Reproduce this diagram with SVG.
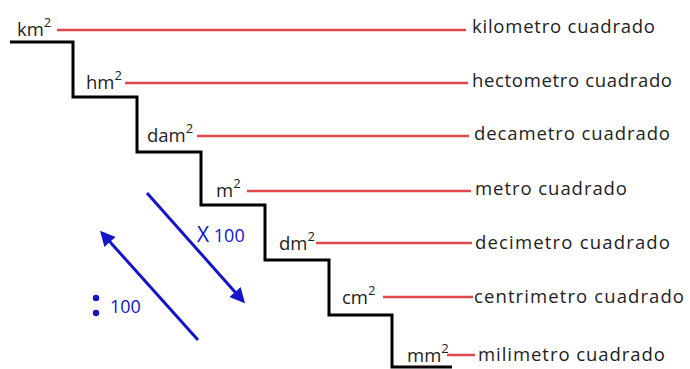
<svg xmlns="http://www.w3.org/2000/svg" width="690" height="369" viewBox="0 0 690 369">
<defs>
<style>
.t{font-family:"Open Sans","Liberation Sans",sans-serif;font-size:18.5px;fill:#222;}
.s{font-size:13px;}
.r{stroke:#e0484e;stroke-width:2.5;fill:none;}
.b{stroke:#1414c8;stroke-width:3;fill:none;}
.bt{font-family:"Open Sans","Liberation Sans",sans-serif;font-size:18px;fill:#1414c8;}
</style>
<marker id="ah" viewBox="0 0 10 10" refX="8" refY="5" markerWidth="5" markerHeight="5" orient="auto" markerUnits="strokeWidth">
<path d="M0,0 L10,5 L0,10 Z" fill="#1414c8"/>
</marker>
</defs>
<rect width="690" height="369" fill="#fff"/>
<g id="stairs">
<path d="M10,42 H73 V97 H137 V152 H201 V205 H265 V260 H329 V315 H392 V367 H452" fill="none" stroke="#000" stroke-width="3"/>
</g>
<g id="connectors">
<line class="r" x1="57" y1="30" x2="466" y2="30"/>
<line class="r" x1="125" y1="83" x2="468" y2="83"/>
<line class="r" x1="197" y1="136" x2="469" y2="136"/>
<line class="r" x1="247" y1="191" x2="471" y2="191"/>
<line class="r" x1="316" y1="243" x2="472" y2="243"/>
<line class="r" x1="383" y1="297" x2="473" y2="297"/>
<line class="r" x1="447" y1="355" x2="475" y2="355"/>
<line class="b" x1="147" y1="193" x2="243" y2="301" marker-end="url(#ah)"/>
<line class="b" x1="198" y1="340" x2="102" y2="233" marker-end="url(#ah)"/>
</g>
<g id="km2"><text class="t" x="17" y="36">km<tspan class="s" dy="-9">2</tspan></text><text class="t" x="472" y="33" textLength="183">kilometro cuadrado</text></g>
<g id="hm2"><text class="t" x="86" y="89">hm<tspan class="s" dy="-9">2</tspan></text><text class="t" x="472" y="87" textLength="200">hectometro cuadrado</text></g>
<g id="dam2"><text class="t" x="147" y="142">dam<tspan class="s" dy="-9">2</tspan></text><text class="t" x="474" y="140" textLength="196">decametro cuadrado</text></g>
<g id="m2"><text class="t" x="216" y="197">m<tspan class="s" dy="-9">2</tspan></text><text class="t" x="475" y="195" textLength="152">metro cuadrado</text></g>
<g id="dm2"><text class="t" x="279" y="250">dm<tspan class="s" dy="-9">2</tspan></text><text class="t" x="475" y="249" textLength="195">decimetro cuadrado</text></g>
<g id="cm2"><text class="t" x="342" y="304">cm<tspan class="s" dy="-9">2</tspan></text><text class="t" x="474" y="303" textLength="210">centrimetro cuadrado</text></g>
<g id="mm2"><text class="t" x="407" y="362">mm<tspan class="s" dy="-9">2</tspan></text><text class="t" x="478" y="361" textLength="187">milimetro cuadrado</text></g>
<g id="x100"><text class="bt" x="197" y="242"><tspan font-size="21px">X</tspan> 100</text></g>
<g id="d100"><circle cx="96" cy="298" r="3.2" fill="#1414c8"/><circle cx="96" cy="313" r="3.2" fill="#1414c8"/><text class="bt" x="110" y="313">100</text></g>
</svg>
